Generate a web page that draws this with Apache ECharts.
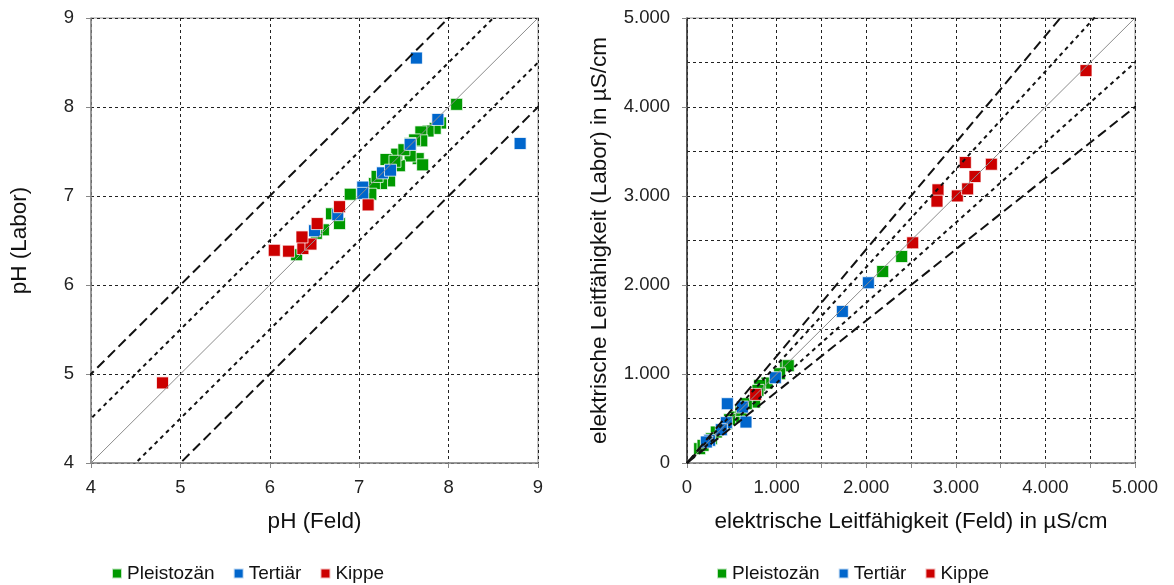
<!DOCTYPE html>
<html>
<head>
<meta charset="utf-8">
<script src="https://cdn.jsdelivr.net/npm/echarts@6/dist/echarts.min.js"></script>
<style>
html,body{margin:0;padding:0;background:#fff;}
#chart{width:1174px;height:585px;}
</style>
</head>
<body>
<div id="chart"></div>
<script>
// pH: [Feld, Labor]
var phPleistozaen = [
    [8.09, 8.03], [7.91, 7.82], [7.85, 7.76], [7.77, 7.73], [7.69, 7.72],
    [7.70, 7.62], [7.62, 7.63], [7.57, 7.59], [7.66, 7.42], [7.71, 7.35],
    [7.57, 7.45], [7.45, 7.34], [7.42, 7.47], [7.50, 7.52], [7.30, 7.41],
    [7.34, 7.17], [7.25, 7.14], [7.17, 7.14], [7.13, 7.02], [6.90, 7.02],
    [6.78, 6.69], [6.69, 6.80], [6.60, 6.62], [6.30, 6.34], [7.20, 7.22],
    [7.40, 7.39], [6.52, 6.58]
];
var phTertiaer = [
    [7.64, 8.55], [8.80, 7.59], [7.88, 7.86], [7.57, 7.58], [7.26, 7.26],
    [7.35, 7.29], [7.04, 7.10], [7.04, 7.03], [6.76, 6.79], [6.50, 6.61]
];
var phKippe = [
    [4.80, 4.90], [6.05, 6.39], [6.21, 6.38], [6.37, 6.41], [6.46, 6.46],
    [6.36, 6.54], [6.53, 6.69], [6.78, 6.88], [7.10, 6.90]
];
// elektrische Leitfähigkeit in µS/cm: [Feld, Labor]
var lfPleistozaen = [
    [2396, 2320], [2184, 2152], [1101, 1093], [1130, 1093], [893, 898],
    [811, 872], [755, 685], [662, 666], [532, 516], [439, 442],
    [327, 348], [272, 273], [141, 161], [179, 198], [1034, 1003],
    [792, 816], [603, 591], [476, 487]
];
var lfTertiaer = [
    [1734, 1703], [2024, 2025], [986, 958], [450, 666], [618, 629],
    [658, 460], [439, 453], [383, 374], [253, 255], [216, 236]
];
var lfKippe = [
    [4453, 4409], [3106, 3376], [3397, 3357], [3214, 3219], [2801, 3069],
    [2790, 2942], [3017, 3001], [3132, 3080], [2519, 2474], [766, 771]
];
// Hilfslinien
var phOffsets = [-1, -0.5, 0, 0.5, 1];
var lfFactors = [0.8, 0.9, 1, 1.1, 1.2];
var groupNames = ['Pleistozän', 'Tertiär', 'Kippe'];
var groupColors = ['#009900', '#0066CC', '#CC0000'];

var chart = echarts.init(document.getElementById('chart'));
var font = 'Liberation Sans, Arial, sans-serif';

function lineStyleFor(k) {
    var a = Math.abs(k);
    if (a === 0) return {color: '#8c8c8c', width: 1, type: 'solid'};
    if (a === 0.5 || a === 0.1) return {color: '#111', width: 2, type: [4, 4]};
    return {color: '#111', width: 2, type: [10, 5]};
}

var series = [];
// pH Linien
phOffsets.forEach(function (o) {
    series.push({
        type: 'line', xAxisIndex: 0, yAxisIndex: 0, symbol: 'none', silent: true, clip: true,
        lineStyle: lineStyleFor(o), data: [[4 - 1, 4 - 1 + o], [9 + 1, 9 + 1 + o]]
    });
});
// LF Linien
lfFactors.forEach(function (f) {
    series.push({
        type: 'line', xAxisIndex: 1, yAxisIndex: 1, symbol: 'none', silent: true, clip: true,
        lineStyle: lineStyleFor(Math.round((f - 1) * 10) / 10), data: [[0, 0], [6000, 6000 * f]]
    });
});
[phPleistozaen, phTertiaer, phKippe].forEach(function (d, i) {
    series.push({
        name: groupNames[i], type: 'scatter', xAxisIndex: 0, yAxisIndex: 0,
        symbol: 'rect', symbolSize: 12, data: d,
        itemStyle: {color: groupColors[i], borderColor: 'rgba(255,255,255,0.75)', borderWidth: 1, opacity: 1}
    });
});
[lfPleistozaen, lfTertiaer, lfKippe].forEach(function (d, i) {
    series.push({
        name: groupNames[i], type: 'scatter', xAxisIndex: 1, yAxisIndex: 1,
        symbol: 'rect', symbolSize: 12, data: d,
        itemStyle: {color: groupColors[i], borderColor: 'rgba(255,255,255,0.75)', borderWidth: 1, opacity: 1}
    });
});

var splitDash = {show: true, lineStyle: {color: '#222', width: 1, type: [3, 3]}};
var labelStyle = {color: '#222', fontSize: 18.5, fontFamily: font};
var nameStyle = {color: '#111', fontSize: 22.5, fontFamily: font};
var legendText = {color: '#111', fontSize: 19, fontFamily: font};
var kfmt = function (v) { return v === 0 ? '0' : (v / 1000).toFixed(3); };

var option = {
    animation: false,
    backgroundColor: '#fff',
    grid: [
        {left: 91, top: 18, width: 447, height: 445, show: true, borderColor: '#999', borderWidth: 1},
        {left: 687, top: 18, width: 448, height: 445, show: true, borderColor: '#999', borderWidth: 1}
    ],
    xAxis: [
        {
            gridIndex: 0, type: 'value', min: 4, max: 9, interval: 1,
            name: 'pH (Feld)', nameLocation: 'middle', nameGap: 47, nameTextStyle: nameStyle,
            axisLine: {onZero: false, lineStyle: {color: '#888', width: 1.5}},
            axisTick: {show: true, length: 5, lineStyle: {color: '#888'}},
            axisLabel: Object.assign({margin: 15}, labelStyle),
            splitLine: splitDash
        },
        {
            gridIndex: 1, type: 'value', min: 0, max: 5000, interval: 500,
            name: 'elektrische Leitfähigkeit (Feld) in µS/cm', nameLocation: 'middle', nameGap: 47, nameTextStyle: nameStyle,
            axisLine: {onZero: false, lineStyle: {color: '#888', width: 1.5}},
            axisTick: {show: true, length: 5, lineStyle: {color: '#888'}},
            axisLabel: Object.assign({margin: 15, formatter: function (v) { return v % 1000 === 0 ? kfmt(v) : ''; }}, labelStyle),
            splitLine: splitDash
        }
    ],
    yAxis: [
        {
            gridIndex: 0, type: 'value', min: 4, max: 9, interval: 1,
            name: 'pH (Labor)', nameLocation: 'middle', nameGap: 60, nameTextStyle: nameStyle,
            axisLine: {onZero: false, lineStyle: {color: '#888', width: 1.5}},
            axisTick: {show: true, length: 5, lineStyle: {color: '#888'}},
            axisLabel: Object.assign({margin: 17}, labelStyle),
            splitLine: splitDash
        },
        {
            gridIndex: 1, type: 'value', min: 0, max: 5000, interval: 1000,
            name: 'elektrische Leitfähigkeit (Labor) in µS/cm', nameLocation: 'middle', nameGap: 76, nameTextStyle: nameStyle,
            axisLine: {onZero: false, lineStyle: {color: '#333', width: 1.5}},
            axisTick: {show: true, length: 5, lineStyle: {color: '#888'}},
            axisLabel: Object.assign({margin: 17, formatter: kfmt}, labelStyle),
            splitLine: splitDash,
            minorTick: {show: false, splitNumber: 2},
            minorSplitLine: {show: true, lineStyle: {color: '#222', width: 1, type: [3, 3]}}
        }
    ],
    legend: [
        {
            data: groupNames, left: 106, top: 559, icon: 'rect', itemWidth: 10, itemHeight: 10, itemGap: 18,
            textStyle: legendText, selectedMode: false
        },
        {
            data: groupNames, left: 711, top: 559, icon: 'rect', itemWidth: 10, itemHeight: 10, itemGap: 18,
            textStyle: legendText, selectedMode: false
        }
    ],
    series: series
};
chart.setOption(option);
</script>
</body>
</html>
